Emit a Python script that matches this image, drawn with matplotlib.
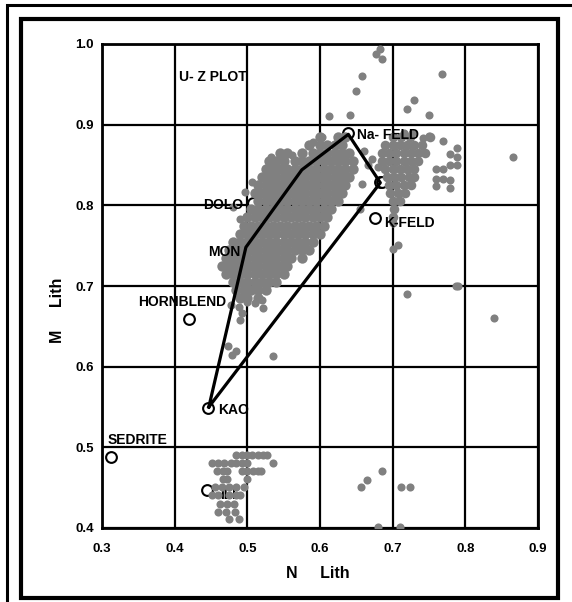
import numpy as np
import matplotlib.pyplot as plt
from matplotlib.patches import Rectangle

# main diagonal cloud (x, y)
main_pts = [
    (0.600, 0.885), (0.625, 0.885), (0.635, 0.885),
    (0.585, 0.875), (0.600, 0.875), (0.610, 0.875), (0.620, 0.875), (0.630, 0.875),
    (0.545, 0.865), (0.555, 0.865), (0.575, 0.865), (0.590, 0.865), (0.600, 0.865),
    (0.610, 0.865), (0.620, 0.865), (0.630, 0.865), (0.640, 0.865),
    (0.530, 0.855), (0.540, 0.855), (0.550, 0.855), (0.565, 0.855), (0.575, 0.855),
    (0.585, 0.855), (0.595, 0.855), (0.605, 0.855), (0.615, 0.855), (0.625, 0.855),
    (0.635, 0.855), (0.645, 0.855),
    (0.525, 0.845), (0.535, 0.845), (0.545, 0.845), (0.555, 0.845), (0.565, 0.845),
    (0.575, 0.845), (0.585, 0.845), (0.595, 0.845), (0.605, 0.845), (0.615, 0.845),
    (0.625, 0.845), (0.635, 0.845), (0.645, 0.845),
    (0.520, 0.835), (0.530, 0.835), (0.540, 0.835), (0.550, 0.835), (0.560, 0.835),
    (0.570, 0.835), (0.580, 0.835), (0.590, 0.835), (0.600, 0.835), (0.610, 0.835),
    (0.620, 0.835), (0.630, 0.835), (0.640, 0.835),
    (0.515, 0.825), (0.525, 0.825), (0.535, 0.825), (0.545, 0.825), (0.555, 0.825),
    (0.565, 0.825), (0.575, 0.825), (0.585, 0.825), (0.595, 0.825), (0.605, 0.825),
    (0.615, 0.825), (0.625, 0.825), (0.635, 0.825),
    (0.510, 0.815), (0.520, 0.815), (0.530, 0.815), (0.540, 0.815), (0.550, 0.815),
    (0.560, 0.815), (0.570, 0.815), (0.580, 0.815), (0.590, 0.815), (0.600, 0.815),
    (0.610, 0.815), (0.620, 0.815), (0.630, 0.815),
    (0.515, 0.805), (0.525, 0.805), (0.535, 0.805), (0.545, 0.805), (0.555, 0.805),
    (0.565, 0.805), (0.575, 0.805), (0.585, 0.805), (0.595, 0.805), (0.605, 0.805),
    (0.615, 0.805), (0.625, 0.805),
    (0.505, 0.795), (0.515, 0.795), (0.525, 0.795), (0.535, 0.795), (0.545, 0.795),
    (0.555, 0.795), (0.565, 0.795), (0.575, 0.795), (0.585, 0.795), (0.595, 0.795),
    (0.605, 0.795), (0.615, 0.795),
    (0.500, 0.785), (0.510, 0.785), (0.520, 0.785), (0.530, 0.785), (0.540, 0.785),
    (0.550, 0.785), (0.560, 0.785), (0.570, 0.785), (0.580, 0.785), (0.590, 0.785),
    (0.600, 0.785), (0.610, 0.785),
    (0.495, 0.775), (0.505, 0.775), (0.515, 0.775), (0.525, 0.775), (0.535, 0.775),
    (0.545, 0.775), (0.555, 0.775), (0.565, 0.775), (0.575, 0.775), (0.585, 0.775),
    (0.595, 0.775), (0.605, 0.775),
    (0.490, 0.765), (0.500, 0.765), (0.510, 0.765), (0.520, 0.765), (0.530, 0.765),
    (0.540, 0.765), (0.550, 0.765), (0.560, 0.765), (0.570, 0.765), (0.580, 0.765),
    (0.590, 0.765), (0.600, 0.765),
    (0.480, 0.755), (0.490, 0.755), (0.500, 0.755), (0.510, 0.755), (0.520, 0.755),
    (0.530, 0.755), (0.540, 0.755), (0.550, 0.755), (0.560, 0.755), (0.570, 0.755),
    (0.580, 0.755), (0.590, 0.755),
    (0.475, 0.745), (0.485, 0.745), (0.495, 0.745), (0.505, 0.745), (0.515, 0.745),
    (0.525, 0.745), (0.535, 0.745), (0.545, 0.745), (0.555, 0.745), (0.565, 0.745),
    (0.575, 0.745), (0.585, 0.745),
    (0.470, 0.735), (0.480, 0.735), (0.490, 0.735), (0.500, 0.735), (0.510, 0.735),
    (0.520, 0.735), (0.530, 0.735), (0.540, 0.735), (0.550, 0.735), (0.560, 0.735),
    (0.575, 0.735),
    (0.465, 0.725), (0.475, 0.725), (0.485, 0.725), (0.495, 0.725), (0.505, 0.725),
    (0.515, 0.725), (0.525, 0.725), (0.535, 0.725), (0.545, 0.725), (0.555, 0.725),
    (0.470, 0.715), (0.480, 0.715), (0.490, 0.715), (0.500, 0.715), (0.510, 0.715),
    (0.520, 0.715), (0.530, 0.715), (0.540, 0.715), (0.550, 0.715),
    (0.480, 0.705), (0.490, 0.705), (0.500, 0.705), (0.510, 0.705), (0.520, 0.705),
    (0.530, 0.705), (0.540, 0.705),
    (0.485, 0.695), (0.495, 0.695), (0.505, 0.695), (0.515, 0.695), (0.525, 0.695),
    (0.490, 0.685), (0.500, 0.685), (0.515, 0.685),
]

# feldspar-side dense cloud
right_pts = [
    (0.700, 0.885), (0.712, 0.885), (0.724, 0.885), (0.751, 0.885),
    (0.690, 0.875), (0.700, 0.875), (0.710, 0.875), (0.720, 0.875), (0.730, 0.875),
    (0.740, 0.875),
    (0.685, 0.865), (0.695, 0.865), (0.705, 0.865), (0.715, 0.865), (0.725, 0.865),
    (0.735, 0.865), (0.745, 0.865),
    (0.685, 0.855), (0.695, 0.855), (0.705, 0.855), (0.715, 0.855), (0.725, 0.855),
    (0.735, 0.855),
    (0.690, 0.845), (0.700, 0.845), (0.710, 0.845), (0.720, 0.845), (0.730, 0.845),
    (0.692, 0.835), (0.702, 0.835), (0.712, 0.835), (0.722, 0.835), (0.730, 0.835),
    (0.695, 0.825), (0.705, 0.825), (0.715, 0.825), (0.725, 0.825),
    (0.697, 0.815), (0.707, 0.815), (0.717, 0.815),
    (0.700, 0.805), (0.710, 0.805), (0.702, 0.795), (0.700, 0.785),
]

# scattered points, the clay cluster near the bottom and stray points
stray_pts = [
    (0.506, 0.829), (0.497, 0.817), (0.480, 0.798), (0.490, 0.783), (0.533, 0.860),
    (0.548, 0.862), (0.561, 0.862), (0.590, 0.879), (0.603, 0.885),
    (0.490, 0.658), (0.493, 0.667), (0.522, 0.673), (0.520, 0.683), (0.510, 0.679),
    (0.500, 0.680), (0.488, 0.674), (0.478, 0.676),
    (0.473, 0.626), (0.484, 0.620), (0.479, 0.614), (0.536, 0.613),
    (0.701, 0.778), (0.707, 0.751), (0.700, 0.746),
    (0.661, 0.867), (0.672, 0.858), (0.680, 0.848), (0.666, 0.850),
    (0.658, 0.826), (0.655, 0.795),
    (0.727, 0.890), (0.742, 0.883), (0.716, 0.890),
    (0.789, 0.871), (0.789, 0.860), (0.789, 0.850), (0.779, 0.864), (0.779, 0.850),
    (0.779, 0.831), (0.779, 0.821), (0.769, 0.845), (0.769, 0.833), (0.759, 0.845),
    (0.759, 0.824), (0.759, 0.833), (0.750, 0.886), (0.769, 0.880),
    (0.683, 0.994), (0.677, 0.988), (0.686, 0.981), (0.658, 0.960), (0.650, 0.942),
    (0.768, 0.963), (0.730, 0.931), (0.720, 0.920), (0.612, 0.911), (0.641, 0.912),
    (0.750, 0.912), (0.865, 0.860),
    (0.720, 0.690), (0.787, 0.700), (0.790, 0.700), (0.840, 0.660),
    (0.485, 0.490), (0.492, 0.490), (0.500, 0.490), (0.507, 0.490), (0.515, 0.490),
    (0.522, 0.490), (0.527, 0.490),
    (0.452, 0.480), (0.460, 0.480), (0.468, 0.480), (0.477, 0.480), (0.485, 0.480),
    (0.493, 0.480), (0.500, 0.480), (0.535, 0.480),
    (0.458, 0.471), (0.466, 0.471), (0.472, 0.471), (0.492, 0.471), (0.500, 0.471),
    (0.508, 0.471), (0.515, 0.471), (0.519, 0.471),
    (0.467, 0.461), (0.472, 0.461), (0.499, 0.461),
    (0.455, 0.451), (0.465, 0.451), (0.475, 0.451), (0.485, 0.451), (0.495, 0.451),
    (0.452, 0.441), (0.460, 0.441), (0.475, 0.441), (0.485, 0.441), (0.490, 0.441),
    (0.462, 0.430), (0.472, 0.430), (0.482, 0.430),
    (0.460, 0.420), (0.470, 0.420), (0.483, 0.420),
    (0.475, 0.411), (0.489, 0.411),
    (0.685, 0.471), (0.664, 0.460), (0.657, 0.451), (0.711, 0.451), (0.724, 0.451),
    (0.680, 0.401), (0.710, 0.401),
]

# end-member minerals
min_x = [0.638, 0.6755, 0.508, 0.420, 0.446, 0.312]
min_y = [0.890, 0.784, 0.803, 0.659, 0.549, 0.488]
hidden_x = [0.682, 0.686, 0.497, 0.537, 0.444]
hidden_y = [0.829, 0.829, 0.748, 0.845, 0.447]

# outline polygon
poly_x = [0.447, 0.498, 0.575, 0.639, 0.683, 0.447]
poly_y = [0.550, 0.748, 0.844, 0.888, 0.828, 0.550]

W, H = 572, 602
fig = plt.figure(figsize=(W / 100, H / 100), dpi=100)
ax = fig.add_axes([102 / W, 1 - 528 / H, 436 / W, 484 / H])

ax.set_xlim(0.3, 0.9)
ax.set_ylim(0.4, 1.0)
ax.set_xticks(np.arange(0.3, 0.91, 0.1))
ax.set_yticks(np.arange(0.4, 1.01, 0.1))
ax.set_xticklabels(['0.3', '0.4', '0.5', '0.6', '0.7', '0.8', '0.9'])
ax.set_yticklabels(['0.4', '0.5', '0.6', '0.7', '0.8', '0.9', '1.0'])
ax.tick_params(length=0, labelsize=9.5)
ax.tick_params(axis='x', pad=11)
ax.tick_params(axis='y', pad=6)
for lab in ax.get_xticklabels() + ax.get_yticklabels():
    lab.set_fontweight('bold')
    lab.set_fontfamily('Liberation Sans')
ax.grid(True, color='black', lw=1.6)
ax.set_axisbelow(True)
for sp in ax.spines.values():
    sp.set_linewidth(2)

lab_kw = dict(family='Liberation Sans', weight='bold', fontsize=10, va='center')

# labels and circles partly hidden under the cloud
ax.text(0.462, 0.441, 'ILL', zorder=2, **lab_kw)
ax.scatter(hidden_x, hidden_y, s=60, facecolors='white', edgecolors='black',
           linewidths=1.5, zorder=2)
ax.scatter(min_x, min_y, s=60, facecolors='white', edgecolors='black',
           linewidths=1.5, zorder=2)

for pts, size in ((main_pts, 56), (right_pts, 48), (stray_pts, 34)):
    arr = np.array(pts)
    ax.scatter(arr[:, 0], arr[:, 1], s=size, color='#808080', linewidths=0, zorder=3)

ax.plot(poly_x, poly_y, color='black', lw=2.3, zorder=4)

ax.text(0.406, 0.959, 'U- Z PLOT', ha='left', zorder=5, **lab_kw)
ax.text(0.651, 0.887, 'Na- FELD', ha='left', zorder=5, **lab_kw)
ax.text(0.688, 0.778, 'K-FELD', ha='left', zorder=5, **lab_kw)
ax.text(0.495, 0.800, 'DOLO', ha='right', zorder=5, **lab_kw)
ax.text(0.490, 0.742, 'MON', ha='right', zorder=5, **lab_kw)
ax.text(0.471, 0.680, 'HORNBLEND', ha='right', zorder=5, **lab_kw)
ax.text(0.460, 0.546, 'KAO', ha='left', zorder=5, **lab_kw)
ax.text(0.307, 0.509, 'SEDRITE', ha='left', zorder=5, **lab_kw)

fig.text(318 / W, 1 - 573 / H, 'N     Lith', ha='center', va='center',
         fontsize=11.5, weight='bold', family='Liberation Sans')
fig.text(57 / W, 1 - 310 / H, 'M     Lith', ha='center', va='center',
         rotation=90, fontsize=11.5, weight='bold', family='Liberation Sans')

# double frame around the figure
fig.add_artist(Rectangle((21 / W, 1 - 598 / H), 536.5 / W, 579 / H,
                         transform=fig.transFigure, fill=False, lw=3, color='black'))
fig.add_artist(Rectangle((6.5 / W, -0.2), 1.2, 1 - 4.7 / H + 0.2,
                         transform=fig.transFigure, fill=False, lw=2.2, color='black'))

fig.savefig('out.png', dpi=100)
